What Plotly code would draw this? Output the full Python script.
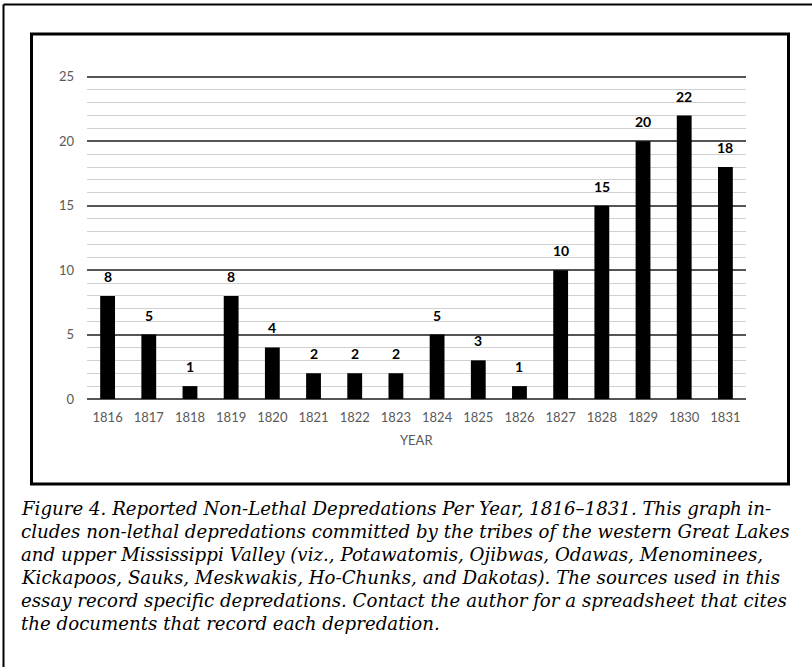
import plotly.graph_objects as go

years = [1816, 1817, 1818, 1819, 1820, 1821, 1822, 1823,
         1824, 1825, 1826, 1827, 1828, 1829, 1830, 1831]
counts = [8, 5, 1, 8, 4, 2, 2, 2, 5, 3, 1, 10, 15, 20, 22, 18]

x_title = "YEAR"
caption_lines = [
    "Figure 4. Reported Non-Lethal Depredations Per Year, 1816–1831. This graph in-",
    "cludes non-lethal depredations committed by the tribes of the western Great Lakes",
    "and upper Mississippi Valley (viz., Potawatomis, Ojibwas, Odawas, Menominees,",
    "Kickapoos, Sauks, Meskwakis, Ho-Chunks, and Dakotas). The sources used in this",
    "essay record specific depredations. Contact the author for a spreadsheet that cites",
    "the documents that record each depredation.",
]

W, H = 812, 667
L, R, T, B = 87, 66, 73, 268
PW, PH = W - L - R, H - T - B


def px(x):
    return (x - L) / PW


def py(y):
    return (H - B - y) / PH


fig = go.Figure()
fig.add_trace(go.Bar(x=years, y=counts, marker=dict(color="black", line=dict(width=0)),
                     hoverinfo="x+y"))

for yr, c in zip(years, counts):
    fig.add_annotation(x=yr, y=c, xref="x", yref="y", text=f"<b>{c}</b>", showarrow=False,
                       yanchor="bottom", yshift=9,
                       font=dict(family="Lato", size=14, color="black"))

fig.add_annotation(x=px(416), y=py(440), xref="paper", yref="paper", text=x_title,
                   showarrow=False, xanchor="center", yanchor="middle",
                   font=dict(family="Lato", size=13, color="#595959"))

line_y = [508, 531, 554, 577, 600, 623]
for ln, yy in zip(caption_lines, line_y):
    fig.add_annotation(x=px(19), y=py(yy), xref="paper", yref="paper", text=ln,
                       showarrow=False, xanchor="left", yanchor="middle",
                       font=dict(family="DejaVu Serif", size=18.2, color="black", style="italic"))

# inner chart box
fig.add_shape(type="rect", xref="paper", yref="paper",
              x0=px(31.5), x1=px(788.5), y0=py(484), y1=py(34),
              line=dict(color="black", width=3), fillcolor="rgba(0,0,0,0)", layer="above")
# outer frame (top and left edges visible)
fig.add_shape(type="line", xref="paper", yref="paper", x0=px(3.5), x1=px(830), y0=py(4.5), y1=py(4.5),
              line=dict(color="black", width=2))
fig.add_shape(type="line", xref="paper", yref="paper", x0=px(3.5), x1=px(3.5), y0=py(4.5), y1=py(700),
              line=dict(color="black", width=2))

fig.update_layout(
    width=W, height=H,
    margin=dict(l=L, r=R, t=T, b=B, autoexpand=False),
    paper_bgcolor="white", plot_bgcolor="white",
    bargap=0.64, showlegend=False,
    xaxis=dict(type="linear", range=[1815.5, 1831.5], dtick=1, tick0=1816,
               showgrid=False, showline=False, ticks="", zeroline=False,
               tickfont=dict(family="Lato", size=13, color="#595959"),
               ticklabelstandoff=9),
    yaxis=dict(range=[0, 25.3], dtick=5, tick0=0, showgrid=True, gridcolor="#555555", gridwidth=1.5,
               zeroline=True, zerolinecolor="#555555", zerolinewidth=1.5,
               showline=False, ticks="",
               tickfont=dict(family="Lato", size=13, color="#595959"),
               ticklabelstandoff=12,
               minor=dict(dtick=1, showgrid=True, gridcolor="#d0d0d0", gridwidth=1.2)),
)

fig.write_html("out.html", config={"displayModeBar": False},
               post_script="document.body.style.margin='0px';")
